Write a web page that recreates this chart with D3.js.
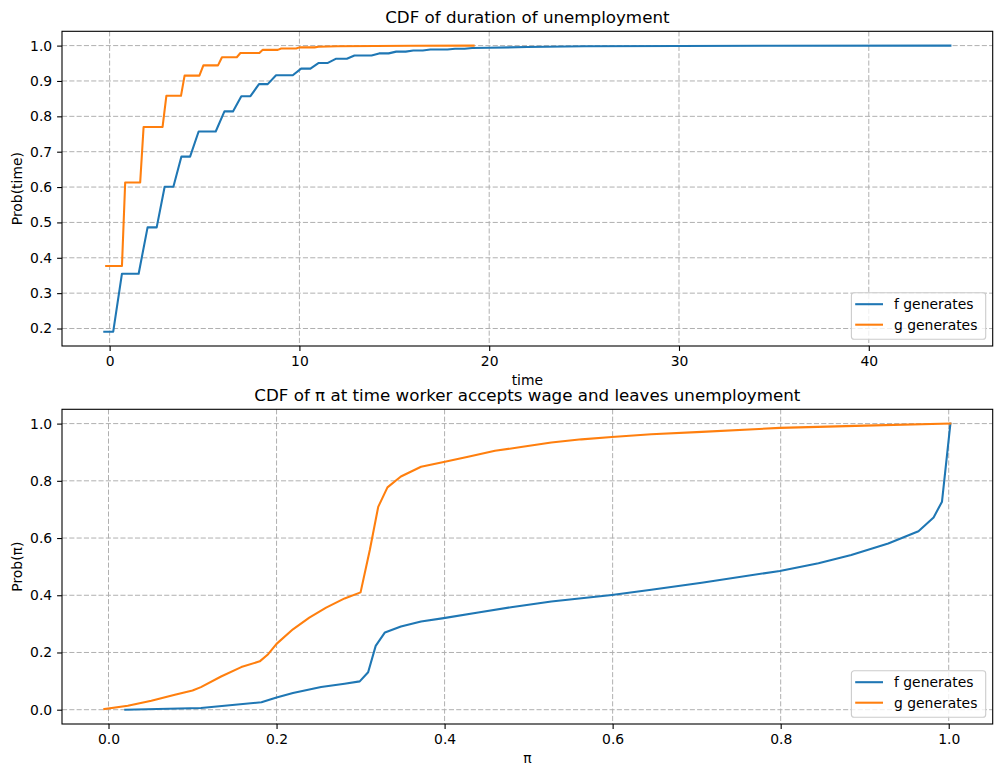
<!DOCTYPE html>
<html lang="en">
<head>
<meta charset="UTF-8">
<title>CDF of duration of unemployment</title>
<script src="https://cdn.jsdelivr.net/npm/d3@7"></script>
<style>
  body { margin: 0; background: #fff; }
  svg { display: block; font-family: "DejaVu Sans", sans-serif; }
  .grid line { stroke: #b0b0b0; stroke-width: 1; stroke-dasharray: 5.1,2.2; }
  .axis text { font-size: 13.9px; fill: #000; font-family: "DejaVu Sans", sans-serif; }
  .axis line { stroke: #000; stroke-width: 1.1; }
  .axis path { display: none; }
  .series { fill: none; stroke-width: 2.08; stroke-linejoin: round; stroke-linecap: square; }
</style>
</head>
<body>
<svg id="chart" width="1001" height="777"></svg>
<script>
// ---- data ----
const seriesNames = ['f generates', 'g generates'];
const seriesColors = ['#1f77b4', '#ff7f0e'];

// top panel: duration of unemployment
const timeF = [-0.28, 0.19, 0.65, 1.53, 2.0, 2.48, 2.9, 3.36, 3.78, 4.24, 4.69, 5.59, 6.05, 6.5, 6.94, 7.42,
    7.87, 8.33, 8.77, 9.65, 10.09, 10.58, 11.02, 11.5, 11.94, 12.5, 12.9, 13.8, 14.2, 14.7, 15.1, 15.6,
    16.0, 16.5, 16.9, 17.8, 18.2, 18.7, 19.1, 20, 22, 25, 30, 35, 44.3];
const probTimeF = [0.191, 0.191, 0.355, 0.355, 0.486, 0.486, 0.601, 0.601, 0.686, 0.686, 0.757, 0.757, 0.814, 0.814, 0.857, 0.857,
    0.891, 0.891, 0.916, 0.916, 0.935, 0.935, 0.951, 0.951, 0.963, 0.963, 0.972, 0.972, 0.978, 0.978, 0.983, 0.983,
    0.986, 0.986, 0.989, 0.989, 0.991, 0.991, 0.993, 0.994, 0.996, 0.998, 0.999, 0.9996, 1.0];
const timeG = [-0.18, 0.65, 0.82, 1.61, 1.79, 2.79, 2.99, 3.76, 3.95, 4.73, 4.94, 5.71, 5.92, 6.7, 6.89, 7.89,
    8.07, 8.86, 9.04, 9.83, 10.0, 10.8, 11, 12, 14, 16, 19.18];
const probTimeG = [0.377, 0.377, 0.613, 0.613, 0.77, 0.77, 0.858, 0.858, 0.915, 0.915, 0.944, 0.944, 0.967, 0.967, 0.979, 0.979,
    0.988, 0.988, 0.992, 0.992, 0.995, 0.995, 0.997, 0.998, 0.999, 0.9995, 1.0];
const timeTicks = [0, 10, 20, 30, 40];
const probTimeTicks = [0.2, 0.3, 0.4, 0.5, 0.6, 0.7, 0.8, 0.9, 1.0];

// bottom panel: pi when the worker accepts
const piF = [0.02, 0.11, 0.182, 0.2, 0.2195, 0.253, 0.281, 0.299, 0.309, 0.318, 0.329, 0.348, 0.372, 0.399, 0.44, 0.479,
    0.527, 0.599, 0.646, 0.706, 0.799, 0.845, 0.884, 0.928, 0.964, 0.982, 0.992, 1.002];
const probPiF = [0.0, 0.006, 0.026, 0.043, 0.058, 0.079, 0.091, 0.099, 0.131, 0.223, 0.27, 0.291, 0.308, 0.32, 0.34, 0.358,
    0.378, 0.401, 0.419, 0.444, 0.485, 0.512, 0.541, 0.581, 0.624, 0.672, 0.727, 1.0];
const piG = [-0.005, 0.023, 0.051, 0.079, 0.1, 0.11, 0.134, 0.158, 0.18, 0.19, 0.2, 0.2195, 0.239, 0.259, 0.281, 0.3,
    0.311, 0.321, 0.332, 0.348, 0.372, 0.399, 0.428, 0.46, 0.491, 0.527, 0.563, 0.599, 0.646, 0.706, 0.799, 0.9, 1.002];
const probPiG = [0.002, 0.014, 0.031, 0.052, 0.067, 0.079, 0.116, 0.149, 0.169, 0.194, 0.23, 0.281, 0.322, 0.357, 0.389, 0.41,
    0.558, 0.709, 0.777, 0.815, 0.849, 0.866, 0.884, 0.905, 0.918, 0.934, 0.945, 0.953, 0.963, 0.971, 0.985, 0.993, 1.0];
const piTicks = [0.0, 0.2, 0.4, 0.6, 0.8, 1.0];
const probPiTicks = [0.0, 0.2, 0.4, 0.6, 0.8, 1.0];

const svg = d3.select('#chart');

// matplotlib style auto limits: 5% margin around the data
function padded(values) {
    const [lo, hi] = d3.extent(values);
    const m = (hi - lo) * 0.05;
    return [lo - m, hi + m];
}

function drawPanel(p) {
    const x = d3.scaleLinear().domain(padded(p.xs.flat())).range([p.left, p.right]);
    const y = d3.scaleLinear().domain(padded(p.ys.flat())).range([p.bottom, p.top]);
    const g = svg.append('g');

    // dashed grid
    const grid = g.append('g').attr('class', 'grid');
    grid.selectAll('.gx').data(p.xTicks).enter().append('line')
        .attr('x1', d => x(d)).attr('x2', d => x(d))
        .attr('y1', p.top).attr('y2', p.bottom);
    grid.selectAll('.gy').data(p.yTicks).enter().append('line')
        .attr('x1', p.left).attr('x2', p.right)
        .attr('y1', d => y(d)).attr('y2', d => y(d));

    // lines
    const clipId = 'clip' + p.id;
    g.append('clipPath').attr('id', clipId).append('rect')
        .attr('x', p.left).attr('y', p.top)
        .attr('width', p.right - p.left).attr('height', p.bottom - p.top);
    const line = d3.line().x(d => x(d[0])).y(d => y(d[1]));
    p.xs.forEach((xs, i) => {
        g.append('path').attr('class', 'series')
            .attr('clip-path', `url(#${clipId})`)
            .attr('stroke', seriesColors[i])
            .attr('d', line(xs.map((v, j) => [v, p.ys[i][j]])));
    });

    // axes
    g.append('g').attr('class', 'axis')
        .attr('transform', `translate(0,${p.bottom})`)
        .call(d3.axisBottom(x).tickValues(p.xTicks).tickFormat(p.xFormat)
            .tickSizeOuter(0).tickSize(4.9).tickPadding(4.9));
    g.append('g').attr('class', 'axis')
        .attr('transform', `translate(${p.left},0)`)
        .call(d3.axisLeft(y).tickValues(p.yTicks).tickFormat(d3.format('.1f'))
            .tickSizeOuter(0).tickSize(4.9).tickPadding(4.9));

    // frame
    g.append('rect')
        .attr('x', p.left).attr('y', p.top)
        .attr('width', p.right - p.left).attr('height', p.bottom - p.top)
        .attr('fill', 'none').attr('stroke', '#000').attr('stroke-width', 1.1);

    // title and labels
    const midX = (p.left + p.right) / 2;
    g.append('text').attr('x', midX).attr('y', p.top - 8.3)
        .attr('text-anchor', 'middle').attr('font-size', '16.7px').text(p.title);
    g.append('text').attr('x', midX).attr('y', p.bottom + 39)
        .attr('text-anchor', 'middle').attr('font-size', '13.9px').text(p.xLabel);
    g.append('text')
        .attr('transform', `translate(22,${(p.top + p.bottom) / 2}) rotate(-90)`)
        .attr('text-anchor', 'middle').attr('font-size', '13.9px').text(p.yLabel);

    // legend, lower right
    const lg = g.append('g').attr('transform', `translate(${p.right - 42 - 100},${p.bottom - 53.3})`);
    lg.append('rect').attr('x', 0.7).attr('y', 0).attr('width', 134.3).attr('height', 46.6)
        .attr('rx', 2.8).attr('fill', '#fff').attr('fill-opacity', 0.8)
        .attr('stroke', '#cccccc').attr('stroke-width', 1.1);
    seriesNames.forEach((name, i) => {
        const yy = 11.5 + i * 20.5;
        lg.append('line').attr('x1', 4.5).attr('x2', 32.3).attr('y1', yy).attr('y2', yy)
            .attr('stroke', seriesColors[i]).attr('stroke-width', 2.08);
        lg.append('text').attr('x', 43.3).attr('y', yy + 4.9)
            .attr('font-size', '13.9px').text(name);
    });
}

drawPanel({
    id: 'time', left: 62, right: 992.7, top: 31.3, bottom: 346,
    xs: [timeF, timeG], ys: [probTimeF, probTimeG],
    xTicks: timeTicks, yTicks: probTimeTicks, xFormat: d3.format('d'),
    title: 'CDF of duration of unemployment', xLabel: 'time', yLabel: 'Prob(time)'
});

drawPanel({
    id: 'pi', left: 62, right: 992.7, top: 409.3, bottom: 724,
    xs: [piF, piG], ys: [probPiF, probPiG],
    xTicks: piTicks, yTicks: probPiTicks, xFormat: d3.format('.1f'),
    title: 'CDF of π at time worker accepts wage and leaves unemployment', xLabel: 'π', yLabel: 'Prob(π)'
});
</script>
</body>
</html>
